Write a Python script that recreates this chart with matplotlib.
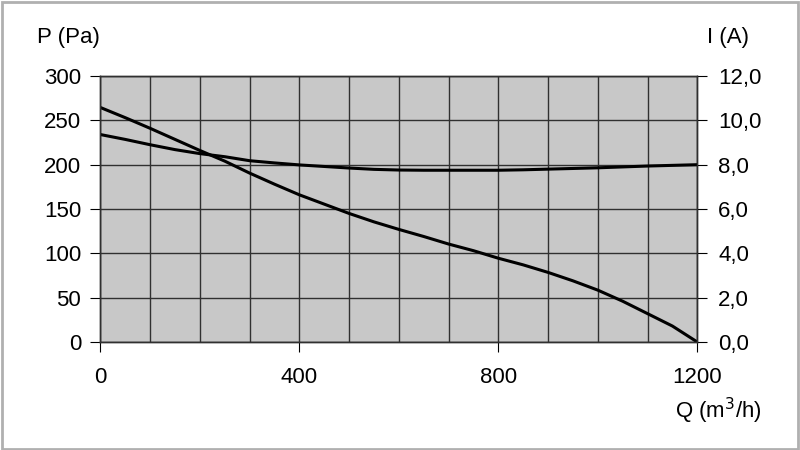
import matplotlib.pyplot as plt
from matplotlib.ticker import MultipleLocator, FuncFormatter

plt.rcParams['font.family'] = ['Liberation Sans', 'DejaVu Sans']

# flow rate (m3/h)
q = [0, 50, 100, 150, 200, 250, 300, 350, 400, 450, 500, 550, 600,
     650, 700, 750, 800, 850, 900, 950, 1000, 1050, 1100, 1150, 1200]
# pressure (Pa)
pressure = [264.5, 253, 241, 228.5, 216, 204, 190.5, 178, 166, 155.5, 145, 135.5, 127,
            119, 110.5, 103, 94.5, 87, 78.5, 69, 58.5, 46, 32, 18, 0]
# current (A)
current = [9.36, 9.14, 8.9, 8.68, 8.5, 8.36, 8.18, 8.08, 7.99, 7.92, 7.85, 7.79, 7.76,
           7.75, 7.75, 7.75, 7.75, 7.77, 7.8, 7.83, 7.86, 7.9, 7.94, 7.97, 8.0]

fig = plt.figure(figsize=(8, 4.5), dpi=100)
ax = fig.add_axes([0.1256, 0.24, 0.746, 0.591])
ax.set_facecolor('#c8c8c8')

ax.plot(q, pressure, color='black', lw=2.2)
ax2 = ax.twinx()
ax2.plot(q, current, color='black', lw=2.2)

ax.set_xlim(0, 1200)
ax.set_ylim(0, 300)
ax2.set_ylim(0, 12)

ax.xaxis.set_major_locator(MultipleLocator(400))
ax.xaxis.set_minor_locator(MultipleLocator(100))
ax.yaxis.set_major_locator(MultipleLocator(50))
ax2.yaxis.set_major_locator(MultipleLocator(2))
ax2.yaxis.set_major_formatter(FuncFormatter(lambda v, p: f"{v:.1f}".replace('.', ',')))

ax.grid(True, which='both', color='#303030', lw=1.0)
ax.set_axisbelow(True)
ax.tick_params(axis='x', which='minor', length=0)
ax.tick_params(axis='x', which='major', length=7, labelsize=16, pad=11)
ax.tick_params(axis='y', length=7, labelsize=16, pad=7)
ax2.tick_params(axis='y', length=7, labelsize=16, pad=8)
for s in list(ax.spines.values()) + list(ax2.spines.values()):
    s.set_color('#303030')
    s.set_linewidth(1.0)

fig.text(0.046, 0.904, "P (Pa)", fontsize=16, va='baseline')
fig.text(0.884, 0.904, "I (A)", fontsize=16, va='baseline')
fig.text(0.844, 0.071, "Q (m$^3$/h)", fontsize=16, va='baseline')

# light grey frame around the picture
fig.add_artist(plt.Rectangle((0.002, 0.003), 0.995, 0.993, transform=fig.transFigure,
                             fill=False, edgecolor='#b0b0b0', lw=2))

fig.savefig('out.png', dpi=100)
